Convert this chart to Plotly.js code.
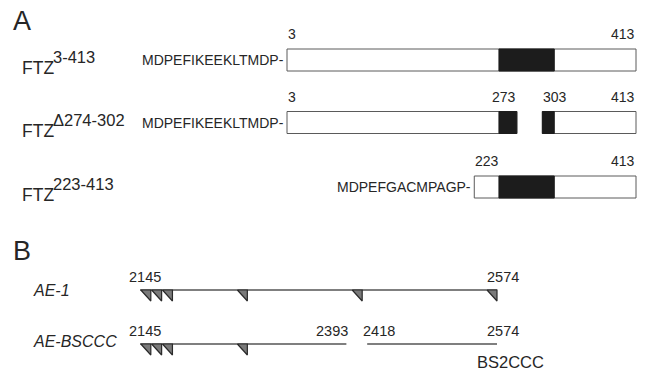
<!DOCTYPE html>
<html><head><meta charset="utf-8">
<script src="https://cdn.plot.ly/plotly-3.0.1.min.js"></script>
<style>html,body{margin:0;padding:0;background:#fff}#chart{width:649px;height:374px}</style>
</head><body><div id="chart"></div>
<script>
// ---------- DATA ----------
// Panel A: FTZ constructs (residue numbers)
const ftzNames = ['3-413', '\u0394274-302', '223-413'];
const ftzPrefix = ['MDPEFIKEEKLTMDP-', 'MDPEFIKEEKLTMDP-', 'MDPEFGACMPAGP-'];
const ftz1Segments = [[3, 413]];
const ftz2Segments = [[3, 273], [303, 413]];
const ftz3Segments = [[223, 413]];
const homeodomain = [252, 317];
// Panel B: AE constructs
const aeNames = ['AE-1', 'AE-BSCCC'];
const ae1Segments = [[2145, 2574]];
const ae2Segments = [[2145, 2393], [2418, 2574]];
const ae1Sites = [2158, 2171, 2184, 2274, 2412, 2574];
const ae2Sites = [2158, 2171, 2184, 2274];
const ae2Tag = 'BS2CCC';

// ---------- STYLE / LAYOUT ----------
const FONT = '"Liberation Sans", Arial, Helvetica, sans-serif';
const TXT = '#262626';
const rowYA = [60, 122.5, 187], barH = 22;
const rowYB = [290, 344];
const triW = 12, triH = 11;
const ftzSegs = [ftz1Segments, ftz2Segments, ftz3Segments];
const aeSegs = [ae1Segments, ae2Segments];
const aeSites = [ae1Sites, ae2Sites];

const traces = [], ann = [];
function poly(xs, ys, fill, lc, lw, xa) {
  traces.push({type: 'scatter', mode: 'lines', x: xs, y: ys, fill: 'toself', fillcolor: fill,
    line: {color: lc, width: lw}, hoverinfo: 'skip', showlegend: false, xaxis: xa, yaxis: 'y'});
}
function txt(t, x, y, size, opts) {
  ann.push(Object.assign({text: t, x: x, y: y, xref: 'x', yref: 'y', showarrow: false,
    font: {family: FONT, size: size, color: TXT}, xanchor: 'center', yanchor: 'middle'}, opts || {}));
}

// Panel A
ftzSegs.forEach((segs, i) => {
  const y0 = rowYA[i] - barH / 2, y1 = rowYA[i] + barH / 2;
  segs.forEach(([a, b]) => {
    poly([a, b, b, a, a], [y0, y0, y1, y1, y0], '#ffffff', '#5a5a5a', 1, 'x');
    const h0 = Math.max(a, homeodomain[0]), h1 = Math.min(b, homeodomain[1]);
    if (h1 > h0) poly([h0, h1, h1, h0, h0], [y0, y0, y1, y1, y0], '#1c1c1c', '#1c1c1c', 1, 'x');
    txt(String(a), a, rowYA[i] - 26, 14, {xanchor: 'left', xshift: -1});
    txt(String(b), b, rowYA[i] - 26, 14, {xanchor: 'right', xshift: 1});
  });
  txt(ftzPrefix[i], segs[0][0], rowYA[i], 14, {xanchor: 'right', xshift: -1});
  txt('FTZ', 20 / 649, rowYA[i] + 8, 17.5, {xref: 'paper', xanchor: 'left'});
  txt(ftzNames[i], 51 / 649, rowYA[i] - 3, 16.5, {xref: 'paper', xanchor: 'left'});
});

// Panel B
const bLabelOpts = {2145: {xshift: 5}, 2574: {xshift: 6}, 2393: {xanchor: 'right', xshift: 4}, 2418: {xanchor: 'left', xshift: -6}};
aeSegs.forEach((segs, i) => {
  const ly = rowYB[i];
  segs.forEach(([a, b]) => {
    traces.push({type: 'scatter', mode: 'lines', x: [a, b], y: [ly, ly], line: {color: '#555555', width: 1.5},
      hoverinfo: 'skip', showlegend: false, xaxis: 'x2', yaxis: 'y'});
    [a, b].forEach(v => txt(String(v), v, ly - 13.5, 14.5, Object.assign({xref: 'x2'}, bLabelOpts[v])));
  });
  aeSites[i].forEach(p => {
    poly([p - triW, p, p, p - triW], [ly, ly, ly + triH, ly], '#7a7a7a', '#2a2a2a', 1.2, 'x2');
  });
  txt(aeNames[i], 31 / 649, ly - (i === 0 ? 0 : 3), 16, {xref: 'paper', xanchor: 'left', font: {family: FONT, size: 16, color: TXT, style: 'italic'}});
});
txt(ae2Tag, 475 / 649, 362, 16.5, {xref: 'paper', xanchor: 'left'});

// Panel letters
txt('A', 11 / 649, 21, 27, {xref: 'paper', xanchor: 'left'});
txt('B', 11 / 649, 251, 27, {xref: 'paper', xanchor: 'left'});

const layout = {
  width: 649, height: 374,
  margin: {l: 0, r: 0, t: 0, b: 0, pad: 0},
  paper_bgcolor: '#ffffff', plot_bgcolor: '#ffffff',
  showlegend: false,
  xaxis: {range: [-334.16, 428.27], visible: false, fixedrange: true},
  xaxis2: {range: [1976.77, 2756.65], visible: false, fixedrange: true, overlaying: 'x', anchor: 'y'},
  yaxis: {range: [374, 0], visible: false, fixedrange: true},
  annotations: ann
};
Plotly.newPlot('chart', traces, layout, {displayModeBar: false, staticPlot: true});
</script>
</body></html>
